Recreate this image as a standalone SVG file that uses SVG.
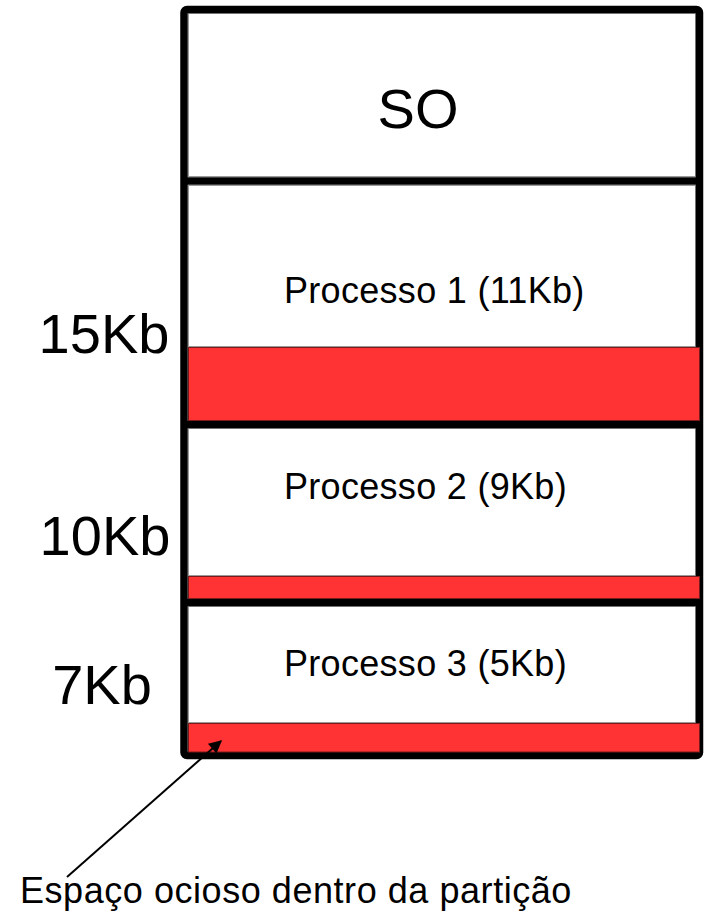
<svg xmlns="http://www.w3.org/2000/svg" width="709" height="911" viewBox="0 0 709 911">
<style>
  .sec { fill: #ffffff; stroke: #9a9a9a; stroke-width: 1; }
  .waste { fill: #ff3333; stroke: #7a1a1a; stroke-width: 1; }
  .border { fill: none; stroke: #000000; stroke-width: 7.5; }
  .div { stroke: #000000; stroke-width: 7.5; }
  text { font-family: "Liberation Sans", Arial, sans-serif; fill: #000000; }
  .big { font-size: 56px; }
  .mid { font-size: 36px; letter-spacing: 0.3px; }
  .note { font-size: 36px; letter-spacing: 0.55px; }
</style>
<defs>
  <marker id="arrow" viewBox="0 0 10 10" refX="9" refY="5" markerWidth="7.5" markerHeight="6.5" orient="auto" markerUnits="strokeWidth">
    <path d="M0,0 L10,5 L0,10 z" fill="#000000"/>
  </marker>
</defs>
<rect width="709" height="911" fill="#ffffff"/>
<g id="memory">
  <rect class="sec" x="188.5" y="13.5" width="507" height="163"/>
  <rect class="sec" x="188.5" y="185.5" width="507" height="161"/>
  <rect class="sec" x="188.5" y="428.5" width="507" height="147"/>
  <rect class="sec" x="188.5" y="606.5" width="507" height="116"/>
  <rect class="border" x="184" y="9.5" width="515.5" height="746" rx="3"/>
  <line class="div" x1="184" y1="181" x2="699.5" y2="181"/>
  <line class="div" x1="184" y1="424.5" x2="699.5" y2="424.5"/>
  <line class="div" x1="184" y1="602.5" x2="699.5" y2="602.5"/>
</g>
<g id="so">
  <text class="big" x="418" y="128" text-anchor="middle">SO</text>
</g>
<g id="p1">
  <rect class="waste" x="188.5" y="347.5" width="511" height="73"/>
  <text class="mid" x="284" y="303">Processo 1 (11Kb)</text>
</g>
<g id="p2">
  <rect class="waste" x="188.5" y="576.5" width="511" height="22"/>
  <text class="mid" x="284" y="499">Processo 2 (9Kb)</text>
</g>
<g id="p3">
  <rect class="waste" x="188.5" y="723.5" width="511" height="28.5"/>
  <text class="mid" x="284" y="676">Processo 3 (5Kb)</text>
</g>
<g id="labels">
  <text class="big" x="104" y="353" text-anchor="middle">15Kb</text>
  <text class="big" x="105" y="555" text-anchor="middle">10Kb</text>
  <text class="big" x="102" y="704" text-anchor="middle">7Kb</text>
</g>
<g id="connectors">
  <line x1="67" y1="877" x2="221" y2="741" stroke="#000000" stroke-width="2" marker-end="url(#arrow)"/>
</g>
<g id="note">
  <text class="note" x="20" y="903">Espaço ocioso dentro da partição</text>
</g>
</svg>
